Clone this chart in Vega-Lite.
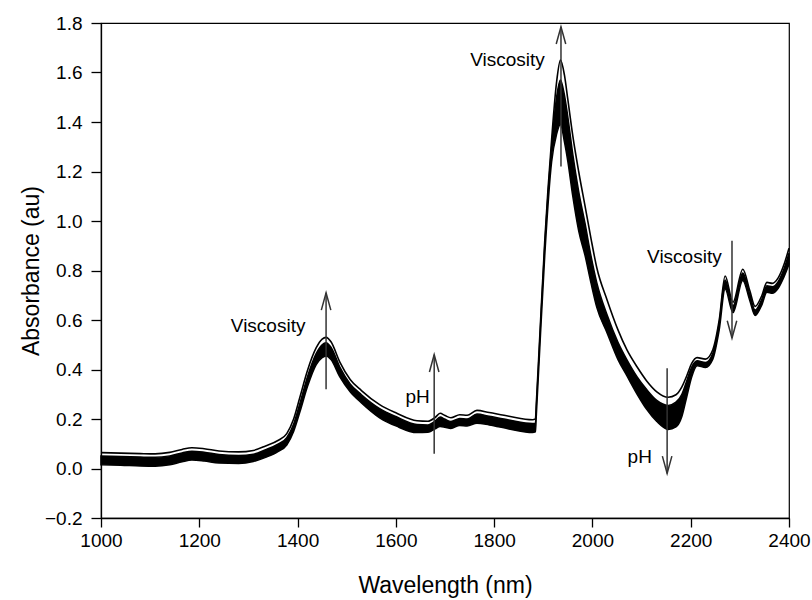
{
  "$schema": "https://vega.github.io/schema/vega-lite/v6.json",
  "width": 688,
  "height": 495,
  "autosize": {"type": "none"},
  "padding": {"left": 101, "top": 23, "right": 23, "bottom": 82},
  "background": "white",
  "config": {
    "view": {"stroke": "black", "strokeWidth": 1.2},
    "font": "Liberation Sans",
    "axis": {"grid": false, "domainColor": "black", "tickColor": "black", "labelColor": "black", "titleColor": "black", "labelFont": "Liberation Sans", "titleFont": "Liberation Sans", "labelFontSize": 19, "titleFontSize": 23, "titleFontWeight": "normal", "domainWidth": 1.3, "tickWidth": 1.3}
  },
  "datasets": {
    "spectra": [
      {"wl": 1000, "top": 0.064, "hi": 0.050, "lo": 0.015},
      {"wl": 1040, "top": 0.062, "hi": 0.048, "lo": 0.013},
      {"wl": 1080, "top": 0.060, "hi": 0.046, "lo": 0.010},
      {"wl": 1110, "top": 0.059, "hi": 0.045, "lo": 0.009},
      {"wl": 1140, "top": 0.065, "hi": 0.051, "lo": 0.015},
      {"wl": 1165, "top": 0.077, "hi": 0.063, "lo": 0.027},
      {"wl": 1185, "top": 0.084, "hi": 0.070, "lo": 0.034},
      {"wl": 1210, "top": 0.080, "hi": 0.066, "lo": 0.030},
      {"wl": 1240, "top": 0.071, "hi": 0.057, "lo": 0.022},
      {"wl": 1280, "top": 0.067, "hi": 0.053, "lo": 0.020},
      {"wl": 1310, "top": 0.073, "hi": 0.058, "lo": 0.028},
      {"wl": 1335, "top": 0.091, "hi": 0.076, "lo": 0.045},
      {"wl": 1360, "top": 0.113, "hi": 0.098, "lo": 0.068},
      {"wl": 1378, "top": 0.141, "hi": 0.125, "lo": 0.095},
      {"wl": 1392, "top": 0.200, "hi": 0.180, "lo": 0.150},
      {"wl": 1405, "top": 0.290, "hi": 0.265, "lo": 0.230},
      {"wl": 1420, "top": 0.395, "hi": 0.370, "lo": 0.330},
      {"wl": 1438, "top": 0.488, "hi": 0.465, "lo": 0.420},
      {"wl": 1450, "top": 0.523, "hi": 0.500, "lo": 0.448},
      {"wl": 1458, "top": 0.530, "hi": 0.508, "lo": 0.455},
      {"wl": 1468, "top": 0.512, "hi": 0.490, "lo": 0.440},
      {"wl": 1486, "top": 0.430, "hi": 0.410, "lo": 0.370},
      {"wl": 1507, "top": 0.360, "hi": 0.342, "lo": 0.310},
      {"wl": 1530, "top": 0.315, "hi": 0.298, "lo": 0.265},
      {"wl": 1567, "top": 0.258, "hi": 0.242, "lo": 0.205},
      {"wl": 1600, "top": 0.225, "hi": 0.210, "lo": 0.172},
      {"wl": 1643, "top": 0.193, "hi": 0.178, "lo": 0.145},
      {"wl": 1665, "top": 0.191, "hi": 0.176, "lo": 0.146},
      {"wl": 1680, "top": 0.206, "hi": 0.191, "lo": 0.160},
      {"wl": 1690, "top": 0.223, "hi": 0.208, "lo": 0.170},
      {"wl": 1700, "top": 0.214, "hi": 0.199, "lo": 0.167},
      {"wl": 1712, "top": 0.205, "hi": 0.190, "lo": 0.162},
      {"wl": 1730, "top": 0.217, "hi": 0.202, "lo": 0.174},
      {"wl": 1745, "top": 0.215, "hi": 0.200, "lo": 0.172},
      {"wl": 1765, "top": 0.235, "hi": 0.220, "lo": 0.183},
      {"wl": 1790, "top": 0.226, "hi": 0.211, "lo": 0.176},
      {"wl": 1830, "top": 0.211, "hi": 0.196, "lo": 0.160},
      {"wl": 1878, "top": 0.197, "hi": 0.182, "lo": 0.145},
      {"wl": 1884, "top": 0.200, "hi": 0.183, "lo": 0.148},
      {"wl": 1886, "top": 0.270, "hi": 0.250, "lo": 0.220},
      {"wl": 1893, "top": 0.540, "hi": 0.520, "lo": 0.490},
      {"wl": 1903, "top": 0.920, "hi": 0.900, "lo": 0.860},
      {"wl": 1917, "top": 1.330, "hi": 1.300, "lo": 1.240},
      {"wl": 1927, "top": 1.560, "hi": 1.500, "lo": 1.350},
      {"wl": 1935, "top": 1.650, "hi": 1.570, "lo": 1.390},
      {"wl": 1943, "top": 1.590, "hi": 1.510, "lo": 1.320},
      {"wl": 1950, "top": 1.490, "hi": 1.420, "lo": 1.240},
      {"wl": 1960, "top": 1.345, "hi": 1.270, "lo": 1.100},
      {"wl": 1972, "top": 1.200, "hi": 1.120, "lo": 0.960},
      {"wl": 1985, "top": 1.060, "hi": 0.990, "lo": 0.860},
      {"wl": 1997, "top": 0.930, "hi": 0.860, "lo": 0.750},
      {"wl": 2009, "top": 0.810, "hi": 0.750, "lo": 0.650},
      {"wl": 2030, "top": 0.680, "hi": 0.620, "lo": 0.547},
      {"wl": 2052, "top": 0.560, "hi": 0.510, "lo": 0.440},
      {"wl": 2070, "top": 0.480, "hi": 0.440, "lo": 0.375},
      {"wl": 2091, "top": 0.410, "hi": 0.370, "lo": 0.300},
      {"wl": 2110, "top": 0.355, "hi": 0.320, "lo": 0.240},
      {"wl": 2131, "top": 0.310, "hi": 0.275, "lo": 0.190},
      {"wl": 2154, "top": 0.288, "hi": 0.255, "lo": 0.158},
      {"wl": 2170, "top": 0.298, "hi": 0.268, "lo": 0.168},
      {"wl": 2182, "top": 0.330, "hi": 0.300, "lo": 0.210},
      {"wl": 2192, "top": 0.375, "hi": 0.355, "lo": 0.290},
      {"wl": 2202, "top": 0.425, "hi": 0.410, "lo": 0.370},
      {"wl": 2213, "top": 0.448, "hi": 0.435, "lo": 0.415},
      {"wl": 2230, "top": 0.442, "hi": 0.428, "lo": 0.408},
      {"wl": 2245, "top": 0.480, "hi": 0.466, "lo": 0.442},
      {"wl": 2258, "top": 0.600, "hi": 0.586, "lo": 0.560},
      {"wl": 2270, "top": 0.778, "hi": 0.762, "lo": 0.725},
      {"wl": 2286, "top": 0.672, "hi": 0.658, "lo": 0.630},
      {"wl": 2306, "top": 0.805, "hi": 0.790, "lo": 0.760},
      {"wl": 2320, "top": 0.720, "hi": 0.705, "lo": 0.680},
      {"wl": 2331, "top": 0.655, "hi": 0.640, "lo": 0.618},
      {"wl": 2345, "top": 0.700, "hi": 0.686, "lo": 0.662},
      {"wl": 2355, "top": 0.752, "hi": 0.738, "lo": 0.712},
      {"wl": 2366, "top": 0.748, "hi": 0.734, "lo": 0.708},
      {"wl": 2378, "top": 0.770, "hi": 0.755, "lo": 0.728},
      {"wl": 2390, "top": 0.825, "hi": 0.808, "lo": 0.775},
      {"wl": 2400, "top": 0.890, "hi": 0.870, "lo": 0.825}
    ],
    "arrows": [
      {"wl": 1458, "y0": 0.32, "y1": 0.71, "dir": "up"},
      {"wl": 1678, "y0": 0.06, "y1": 0.46, "dir": "up"},
      {"wl": 1936, "y0": 1.22, "y1": 1.785, "dir": "up"},
      {"wl": 2152, "y0": 0.405, "y1": -0.02, "dir": "down"},
      {"wl": 2284, "y0": 0.92, "y1": 0.527, "dir": "down"}
    ],
    "labels": [
      {"wl": 1416, "a": 0.575, "text": "Viscosity"},
      {"wl": 1669, "a": 0.29, "text": "pH"},
      {"wl": 1903, "a": 1.65, "text": "Viscosity"},
      {"wl": 2121, "a": 0.048, "text": "pH"},
      {"wl": 2263, "a": 0.855, "text": "Viscosity"}
    ]
  },
  "encoding": {
    "x": {"field": "wl", "type": "quantitative", "scale": {"domain": [1000, 2400], "nice": false, "zero": false},
      "axis": {"values": [1000, 1200, 1400, 1600, 1800, 2000, 2200, 2400], "format": "d", "tickSize": 9, "labelPadding": 4, "labelFlush": false, "title": "Wavelength (nm)", "titleBaseline": "alphabetic", "titleY": 74}}
  },
  "layer": [
    {
      "data": {"name": "spectra"},
      "mark": {"type": "area", "color": "black", "stroke": "black", "strokeWidth": 1.5, "interpolate": "monotone", "opacity": 1},
      "encoding": {
        "y": {"field": "lo", "type": "quantitative", "scale": {"domain": [-0.2, 1.8], "nice": false, "zero": false},
          "axis": {"values": [-0.2, 0, 0.2, 0.4, 0.6, 0.8, 1.0, 1.2, 1.4, 1.6, 1.8], "format": ".1f", "tickSize": 10, "labelPadding": 9, "title": "Absorbance (au)", "titleBaseline": "alphabetic", "titleX": -63}},
        "y2": {"field": "hi"}
      }
    },
    {
      "data": {"name": "spectra"},
      "mark": {"type": "line", "color": "black", "strokeWidth": 1.6, "interpolate": "monotone"},
      "encoding": {"y": {"field": "top", "type": "quantitative"}}
    },
    {
      "data": {"name": "arrows"},
      "mark": {"type": "rule", "color": "#333333", "strokeWidth": 1.5},
      "encoding": {"y": {"field": "y0", "type": "quantitative"}, "y2": {"field": "y1"}}
    },
    {
      "data": {"name": "arrows"},
      "mark": {"type": "point", "filled": false, "color": "#333333", "strokeWidth": 1.5, "size": 300, "opacity": 1},
      "encoding": {
        "y": {"field": "y1", "type": "quantitative"},
        "shape": {"field": "dir", "type": "nominal", "scale": {"domain": ["up", "down"], "range": ["M-0.55,2L0,0L0.55,2", "M-0.55,-2L0,0L0.55,-2"]}, "legend": null}
      }
    },
    {
      "data": {"name": "labels"},
      "mark": {"type": "text", "align": "right", "baseline": "middle", "fontSize": 19, "font": "Liberation Sans", "color": "black"},
      "encoding": {"y": {"field": "a", "type": "quantitative"}, "text": {"field": "text"}}
    }
  ]
}
